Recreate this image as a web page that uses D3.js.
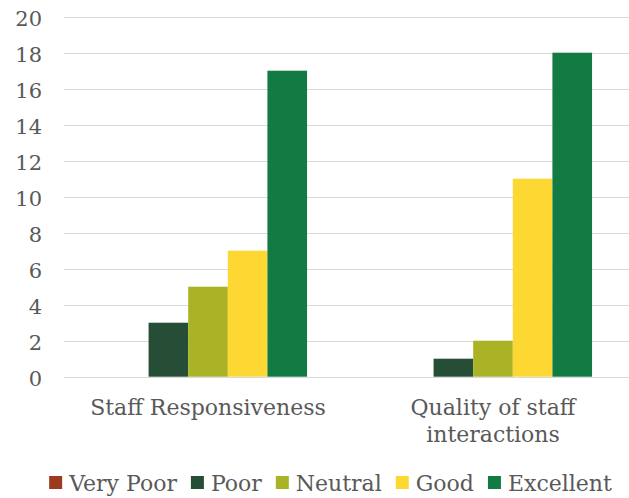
<!DOCTYPE html>
<html>
<head>
<meta charset="utf-8">
<script src="https://cdn.jsdelivr.net/npm/d3@7"></script>
<style>
  html, body { margin: 0; padding: 0; background: #fff; }
  svg { display: block; }
  text { font-family: "DejaVu Serif", serif; fill: #595959; }
</style>
</head>
<body>
<svg id="chart" width="629" height="498"></svg>
<script>
// ---- data ----
const categories = ["Staff Responsiveness", "Quality of staff interactions"];
const categoryLines = [["Staff Responsiveness"], ["Quality of staff", "interactions"]];
const seriesNames = ["Very Poor", "Poor", "Neutral", "Good", "Excellent"];
const seriesColors = ["#9c3b1e", "#264e37", "#a9b325", "#fdd833", "#127b43"];
const veryPoor  = [0, 0];
const poor      = [3, 1];
const neutral   = [5, 2];
const good      = [7, 11];
const excellent = [17, 18];
const yTicks = [0, 2, 4, 6, 8, 10, 12, 14, 16, 18, 20];

const seriesValues = [veryPoor, poor, neutral, good, excellent];

// ---- layout ----
const svg = d3.select("#chart");
const W = 629, H = 498;
const plotLeft = 64, plotRight = 636;
const yTop = 16.7, yBottom = 376.7;

const y = d3.scaleLinear().domain([0, 20]).range([yBottom, yTop]);
const x0 = d3.scaleBand().domain(categories).range([65.5, 635.5])
  .paddingInner(0.305).paddingOuter(0.1525);
const x1 = d3.scaleBand().domain(seriesNames).range([0, x0.bandwidth()]).padding(0);
const color = d3.scaleOrdinal().domain(seriesNames).range(seriesColors);

// gridlines
const yAxis = d3.axisLeft(y).tickValues(yTicks).tickSize(0).tickPadding(0);
const grid = svg.append("g");
grid.selectAll("line").data(yTicks).join("line")
  .attr("x1", plotLeft).attr("x2", plotRight)
  .attr("y1", d => Math.round(y(d)) + 0.5).attr("y2", d => Math.round(y(d)) + 0.5)
  .attr("stroke", "#d9d9d9").attr("stroke-width", 1.2);

// y axis labels
const ya = svg.append("g").attr("transform", "translate(42,0)").call(yAxis);
ya.select(".domain").remove();
ya.selectAll("text")
  .attr("x", 0).attr("dy", null).attr("y", 8.5)
  .attr("text-anchor", "end")
  .style("font-family", "'DejaVu Serif', serif")
  .style("font-size", "21px")
  .style("fill", "#595959");

// bars
const groups = svg.append("g").selectAll("g").data(categories).join("g")
  .attr("transform", d => `translate(${x0(d)},0)`);
groups.selectAll("rect")
  .data((c, ci) => seriesNames.map((s, si) => ({ s, v: seriesValues[si][ci] })))
  .join("rect")
  .attr("x", d => x1(d.s))
  .attr("width", x1.bandwidth())
  .attr("y", d => y(d.v))
  .attr("height", d => y(0) - y(d.v))
  .attr("fill", d => color(d.s));

// category labels
const catG = svg.append("g");
categories.forEach((c, i) => {
  const t = catG.append("text")
    .attr("x", x0(c) + x0.bandwidth() / 2)
    .attr("y", 415)
    .attr("text-anchor", "middle")
    .style("font-size", "22px");
  categoryLines[i].forEach((line, li) => {
    t.append("tspan").attr("x", x0(c) + x0.bandwidth() / 2)
      .attr("dy", li === 0 ? 0 : 27).text(line);
  });
});

// legend
const legend = svg.append("g");
const sq = 13, sqGap = 7, itemGap = 14, legBase = 491;
const items = legend.selectAll("g").data(seriesNames).join("g");
items.append("rect").attr("width", sq).attr("height", sq)
  .attr("y", legBase - 15).attr("fill", d => color(d));
items.append("text").attr("x", sq + sqGap).attr("y", legBase)
  .style("font-size", "22px").text(d => d);
let widths = [];
items.each(function () { widths.push(this.querySelector("text").getComputedTextLength()); });
const itemW = widths.map(w => sq + sqGap + w);
const total = d3.sum(itemW) + itemGap * (itemW.length - 1);
let cx = 330.5 - total / 2;
items.attr("transform", (d, i) => {
  const tx = cx; cx += itemW[i] + itemGap; return `translate(${tx},0)`;
});
</script>
</body>
</html>
